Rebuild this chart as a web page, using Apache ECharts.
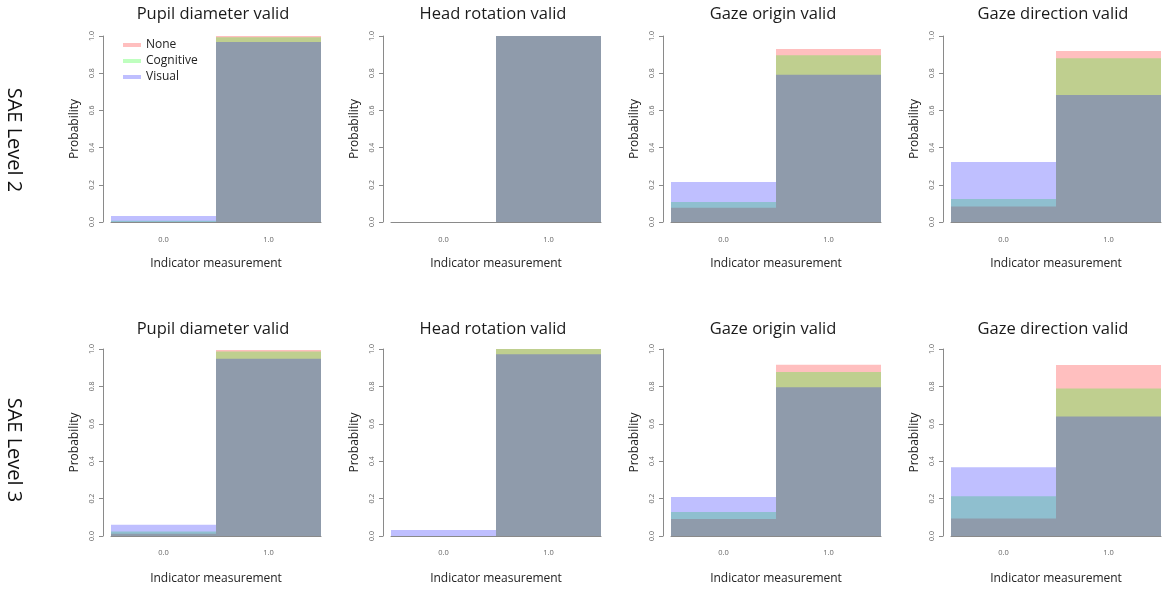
<!DOCTYPE html>
<html>
<head>
<meta charset="utf-8">
<title>Indicator validity by distraction type</title>
<script src="https://cdn.jsdelivr.net/npm/echarts@6/dist/echarts.min.js"></script>
<style>
  html, body { margin: 0; padding: 0; background: #ffffff; }
  #chart { width: 1165px; height: 590px; }
</style>
</head>
<body>
<div id="chart"></div>
<script>
// Histogram bins (indicator measurement) and labels
const categories = ['0.0', '1.0'];
const panelTitles = ['Pupil diameter valid', 'Head rotation valid', 'Gaze origin valid', 'Gaze direction valid'];
const rowLabels = ['SAE Level 2', 'SAE Level 3'];
const seriesNames = ['None', 'Cognitive', 'Visual'];
const yTicks = [0, 0.2, 0.4, 0.6, 0.8, 1.0];

// SAE Level 2 probabilities per bin [0.0, 1.0]
const l2PupilNone = [0.0, 1.0];
const l2PupilCognitive = [0.007, 0.993];
const l2PupilVisual = [0.032, 0.968];

const l2HeadNone = [0.0, 1.0];
const l2HeadCognitive = [0.0, 1.0];
const l2HeadVisual = [0.0, 1.0];

const l2OriginNone = [0.077, 0.93];
const l2OriginCognitive = [0.107, 0.897];
const l2OriginVisual = [0.215, 0.792];

const l2DirectionNone = [0.084, 0.92];
const l2DirectionCognitive = [0.123, 0.88];
const l2DirectionVisual = [0.322, 0.683];

// SAE Level 3 probabilities per bin [0.0, 1.0]
const l3PupilNone = [0.012, 0.995];
const l3PupilCognitive = [0.024, 0.987];
const l3PupilVisual = [0.06, 0.948];

const l3HeadNone = [0.0, 1.0];
const l3HeadCognitive = [0.0, 1.0];
const l3HeadVisual = [0.032, 0.972];

const l3OriginNone = [0.091, 0.916];
const l3OriginCognitive = [0.128, 0.877];
const l3OriginVisual = [0.208, 0.796];

const l3DirectionNone = [0.093, 0.914];
const l3DirectionCognitive = [0.213, 0.789];
const l3DirectionVisual = [0.367, 0.639];

const panelData = [
  [l2PupilNone, l2PupilCognitive, l2PupilVisual],
  [l2HeadNone, l2HeadCognitive, l2HeadVisual],
  [l2OriginNone, l2OriginCognitive, l2OriginVisual],
  [l2DirectionNone, l2DirectionCognitive, l2DirectionVisual],
  [l3PupilNone, l3PupilCognitive, l3PupilVisual],
  [l3HeadNone, l3HeadCognitive, l3HeadVisual],
  [l3OriginNone, l3OriginCognitive, l3OriginVisual],
  [l3DirectionNone, l3DirectionCognitive, l3DirectionVisual]
];

// translucent fills so overlapping histograms blend
const seriesColors = ['rgba(255,0,0,0.25)', 'rgba(0,255,0,0.25)', 'rgba(0,0,255,0.25)'];

const FONT = 'Open Sans';
const colLeft = [111, 391, 671, 951];
const colWidth = 210;
const rowTop = [36, 349];
const rowHeight = [186, 187];
const xOffset = [8, 7];
const xNameGap = [28, 30];

const grids = [], xAxes = [], yAxes = [], series = [], titles = [];

for (let r = 0; r < 2; r++) {
  for (let c = 0; c < 4; c++) {
    const i = r * 4 + c;
    grids.push({ left: colLeft[c], top: rowTop[r], width: colWidth, height: rowHeight[r] });
    xAxes.push({
      type: 'category', gridIndex: i, data: categories, offset: xOffset[r],
      name: 'Indicator measurement', nameLocation: 'middle', nameGap: xNameGap[r],
      nameTextStyle: { fontFamily: FONT, fontSize: 12, color: '#222' },
      axisLine: { lineStyle: { color: '#8a8a8a', width: 1 } },
      axisTick: { alignWithLabel: true, length: 3, lineStyle: { color: '#8a8a8a' } },
      axisLabel: { fontFamily: FONT, fontSize: 7.5, color: '#666', margin: 6 }
    });
    yAxes.push({
      type: 'value', gridIndex: i, min: 0, max: 1, interval: 0.2, offset: 8,
      name: 'Probability', nameLocation: 'middle', nameRotate: 90, nameGap: 22,
      nameTextStyle: { fontFamily: FONT, fontSize: 12, color: '#222' },
      axisLine: { show: true, lineStyle: { color: '#8a8a8a', width: 1 } },
      axisTick: { show: true, length: 4, lineStyle: { color: '#8a8a8a' } },
      splitLine: { show: false },
      axisLabel: {
        fontFamily: FONT, fontSize: 7, color: '#666', rotate: 90, margin: 8,
        customValues: yTicks,
        formatter: v => v.toFixed(1)
      }
    });
    titles.push({
      text: panelTitles[c],
      left: colLeft[c] + colWidth / 2 - 8, top: rowTop[r] - 35 + (r === 1 ? 2 : 0),
      textAlign: 'center',
      textStyle: { fontFamily: FONT, fontSize: 16.5, fontWeight: 'normal', color: '#1a1a1a' }
    });
    panelData[i].forEach((values, k) => {
      series.push({
        type: 'bar', name: seriesNames[k], xAxisIndex: i, yAxisIndex: i,
        data: values, barGap: '-100%', barCategoryGap: '0%',
        itemStyle: { color: seriesColors[k] },
        silent: true, animation: false
      });
    });
  }
}

const chart = echarts.init(document.getElementById('chart'), null, { renderer: 'canvas' });
chart.setOption({
  backgroundColor: '#ffffff',
  animation: false,
  title: titles,
  legend: {
    data: seriesNames, orient: 'vertical', left: 118, top: 34,
    icon: 'rect', itemWidth: 18, itemHeight: 4, itemGap: 4,
    textStyle: { fontFamily: FONT, fontSize: 12, color: '#222' },
    selectedMode: false
  },
  grid: grids,
  xAxis: xAxes,
  yAxis: yAxes,
  series: series,
  graphic: rowLabels.map((label, r) => ({
    type: 'text', x: 14, y: r === 0 ? 140 : 450, rotation: -Math.PI / 2,
    style: { text: label, font: '20px "Open Sans"', fill: '#111', align: 'center', verticalAlign: 'middle' }
  }))
});
</script>
</body>
</html>
